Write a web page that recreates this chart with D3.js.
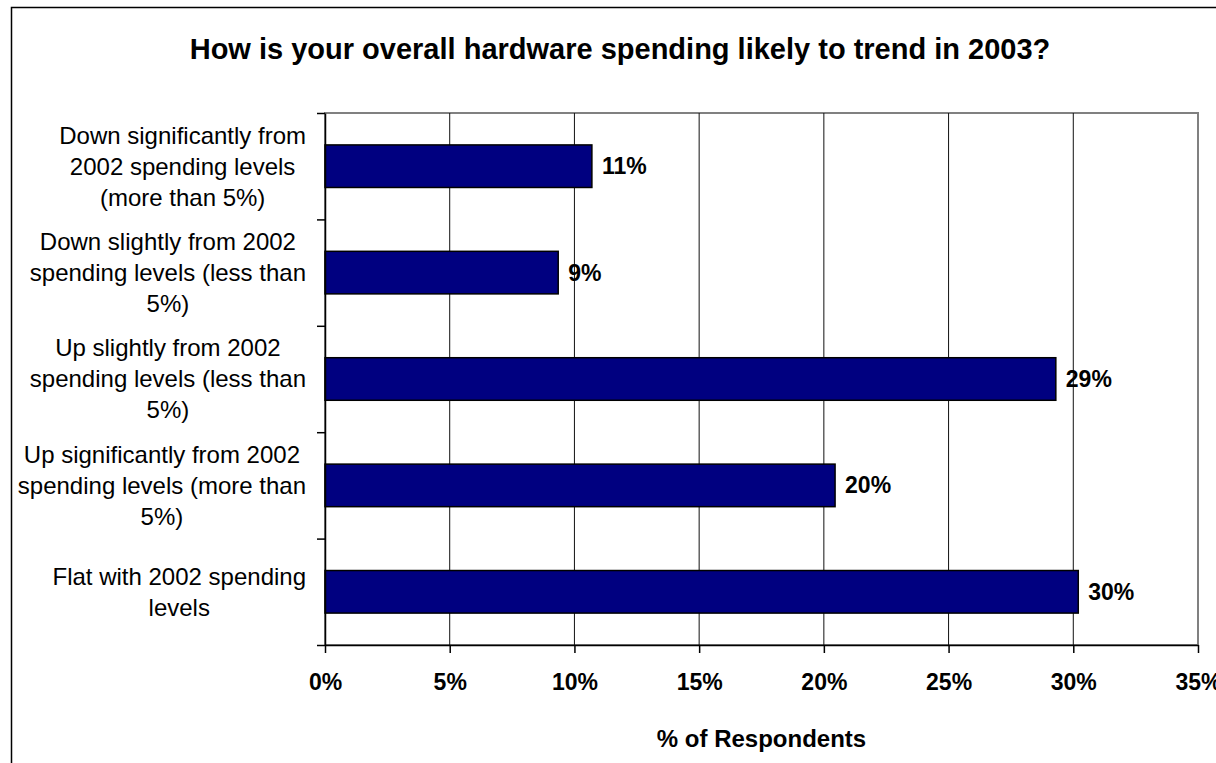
<!DOCTYPE html>
<html>
<head>
<meta charset="utf-8">
<script src="https://cdn.jsdelivr.net/npm/d3@7"></script>
<style>
  body { margin: 0; background: #fff; }
  text { font-family: Arial, "Liberation Sans", sans-serif; fill: #000; }
</style>
</head>
<body>
<svg id="svg1" width="1216" height="763"></svg>
<script>
"use strict";

// data (top bar first)
const categories = [
  ["Down significantly from", "2002 spending levels", "(more than 5%)"],
  ["Down slightly from 2002", "spending levels (less than", "5%)"],
  ["Up slightly from 2002", "spending levels (less than", "5%)"],
  ["Up significantly from 2002", "spending levels (more than", "5%)"],
  ["Flat with 2002 spending", "levels"]
];
const values = [10.7, 9.35, 29.3, 20.45, 30.2];
const xTicks = [0, 5, 10, 15, 20, 25, 30, 35];

const title = "How is your overall hardware spending likely to trend in 2003?";
const xTitle = "% of Respondents";

let svg = d3.select("#svg1");

// plot area
let plotLeft = 325, plotRight = 1198, plotTop = 113, plotBottom = 645;

let x = d3.scaleLinear().domain([0, 35]).range([plotLeft, plotRight]);
let keys = categories.map((c, i) => i);
let y = d3.scaleBand().domain(keys).range([plotTop, plotBottom])
          .paddingInner(0.6).paddingOuter(0.3);
let yTick = d3.scaleLinear().domain([0, keys.length]).range([plotTop, plotBottom]);

// outer chart border (only left and top are visible)
svg.append("rect")
   .attr("x", 11.5).attr("y", 7.5)
   .attr("width", 1300).attr("height", 900)
   .attr("fill", "none").attr("stroke", "#000").attr("stroke-width", 1.5);

// title
svg.append("text")
   .attr("x", 620).attr("y", 59)
   .attr("text-anchor", "middle")
   .style("font-size", "29px").style("font-weight", "bold")
   .text(title);

// plot area border
svg.append("rect")
   .attr("x", plotLeft).attr("y", plotTop)
   .attr("width", plotRight - plotLeft).attr("height", plotBottom - plotTop)
   .attr("fill", "#fff").attr("stroke", "#808080").attr("stroke-width", 2);

// vertical gridlines
svg.append("g")
   .selectAll("line")
   .data(xTicks.slice(1, -1))
   .enter().append("line")
   .attr("x1", d => x(d)).attr("x2", d => x(d))
   .attr("y1", plotTop).attr("y2", plotBottom)
   .attr("stroke", "#111").attr("stroke-width", 1);

// bars
svg.append("g")
   .selectAll("rect")
   .data(values)
   .enter().append("rect")
   .attr("x", x(0))
   .attr("y", (d, i) => y(i))
   .attr("width", d => x(d) - x(0))
   .attr("height", y.bandwidth())
   .attr("fill", "#000080")
   .attr("stroke", "#000").attr("stroke-width", 1.5);

// value labels
svg.append("g")
   .selectAll("text")
   .data(values)
   .enter().append("text")
   .attr("x", d => x(d) + 10)
   .attr("y", (d, i) => y(i) + y.bandwidth() / 2)
   .attr("dy", "0.35em")
   .style("font-size", "23px").style("font-weight", "bold")
   .text(d => Math.round(d) + "%");

// x axis
let xAxis = svg.append("g")
   .attr("transform", `translate(0,${plotBottom})`)
   .call(d3.axisBottom(x).tickValues(xTicks).tickSize(8).tickSizeOuter(0)
          .tickFormat(d => d + "%"));
xAxis.select(".domain").attr("stroke", "#000").attr("stroke-width", 1.5);
xAxis.selectAll(".tick line").attr("stroke", "#000").attr("stroke-width", 1.5);
xAxis.selectAll(".tick text")
   .attr("y", 45).attr("dy", 0)
   .style("font-size", "23px").style("font-weight", "bold")
   .style("font-family", "Arial, 'Liberation Sans', sans-serif")
   .attr("fill", "#000");

// y axis (ticks between categories)
let yAxis = svg.append("g")
   .attr("transform", `translate(${plotLeft},0)`)
   .call(d3.axisLeft(yTick).ticks(keys.length).tickSize(8).tickSizeOuter(0)
          .tickFormat(""));
yAxis.select(".domain").attr("stroke", "#000").attr("stroke-width", 1.5);
yAxis.selectAll(".tick line").attr("stroke", "#000").attr("stroke-width", 1.5);

// category labels: each block of lines is centred on itself,
// and the blocks are right aligned against the axis
let lineHeight = 31;
let labelRight = 306;
svg.append("g")
   .selectAll("text")
   .data(categories)
   .enter().append("text")
   .attr("text-anchor", "middle")
   .style("font-size", "24px")
   .each(function(lines, i) {
     let text = d3.select(this);
     let cy = y(i) + y.bandwidth() / 2;
     let y0 = cy - (lines.length - 1) * lineHeight / 2;
     let spans = text.selectAll("tspan")
       .data(lines)
       .enter().append("tspan")
       .attr("y", (d, j) => y0 + j * lineHeight)
       .attr("dy", "0.35em")
       .text(d => d);
     let maxW = 0;
     spans.each(function() {
       maxW = Math.max(maxW, this.getComputedTextLength());
     });
     spans.attr("x", labelRight - maxW / 2);
   });

// x axis title
svg.append("text")
   .attr("x", (plotLeft + plotRight) / 2).attr("y", 747)
   .attr("text-anchor", "middle")
   .style("font-size", "24px").style("font-weight", "bold")
   .text(xTitle);
</script>
</body>
</html>
